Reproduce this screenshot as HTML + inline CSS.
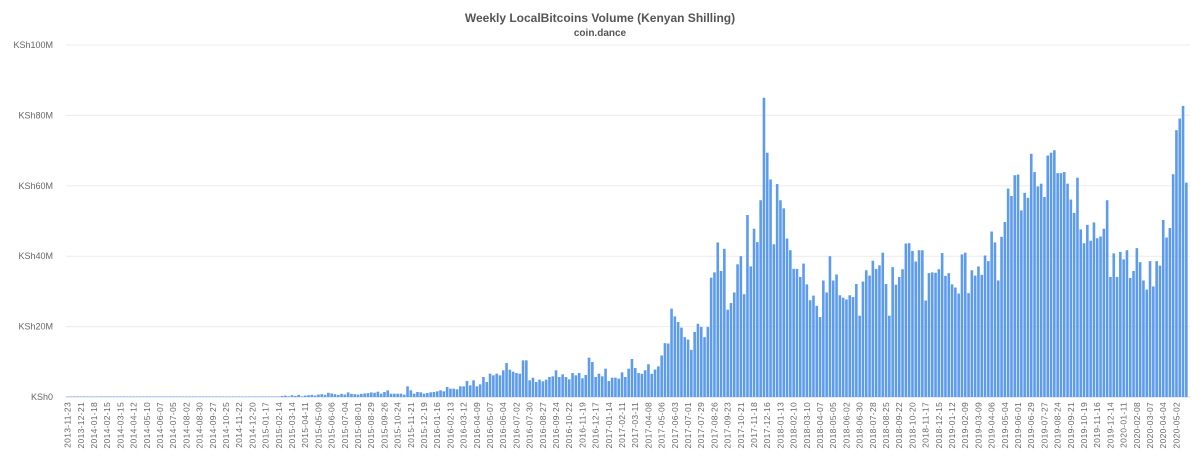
<!DOCTYPE html>
<html><head><meta charset="utf-8"><style>
html,body{margin:0;padding:0;background:#fff;width:1200px;height:464px;overflow:hidden}
svg{display:block;font-family:"Liberation Sans",sans-serif}
</style></head><body>
<svg id="c" width="1200" height="464" xmlns="http://www.w3.org/2000/svg">
<text x="600" y="22" text-anchor="middle" font-size="12" font-weight="bold" fill="#555">Weekly LocalBitcoins Volume (Kenyan Shilling)</text>
<text x="600" y="36" text-anchor="middle" font-size="10" font-weight="bold" fill="#555">coin.dance</text>
<g id="grid"></g><g id="bars"></g><g id="xl"></g>
</svg>
<script>
var NS="http://www.w3.org/2000/svg";
function el(t,a,txt){var e=document.createElementNS(NS,t);for(var k in a)e.setAttribute(k,a[k]);if(txt!=null)e.textContent=txt;return e;}
var x0=66,dw=3.3,y0=397,sc=3.52;
var g=document.getElementById('grid');
for(var i=0;i<=5;i++){var y=y0-i*20*sc;
g.appendChild(el('line',{x1:x0,x2:1190,y1:y,y2:y,stroke:i==0?'#ccd6eb':'#ececec','stroke-width':1}));
g.appendChild(el('text',{x:53,y:y+3,'text-anchor':'end','font-size':9,fill:'#666'},'KSh'+(i*20)+(i?'M':'')));}
var d=[];
for(var w=0;w<65;w++)d.push(w%7==3?0.15:0.05);
var e1=[0.3,0.4,0.2,0.5,0.3,0.6,0.2,0.4,0.5,0.6,0.4,0.7,0.8,0.6,1.2,1.0,0.8,0.6,0.9,0.7,1.3,0.9,0.8,0.7,0.9,1.0,1.1,1.3,1.2,1.5];
d=d.concat(e1);
var tops=[340,335,330,340,340,340,340,343,318,330,340,335,336,340,338,336,335,333,330,333,320,325,325,327,318,318,302,315,300,318,312,290,305,280,285,280,285,270,248,268,274,278,280,240,240,300,292,305,298,303,298,290,288,270,290,282,290,297,278,285,278,294,284,232,245,290,280,288,265,302,292,292,295,276,290,265,236,263,278];
while(d.length<95)d.push(1.2);
for(var i=0;i<tops.length;i++)d.push((350-tops[i])/10.56);
while(d.length<174)d.push(7);
d.length=174;
var rest=[6.6,7.6,9.3,6.6,7.8,8.7,11.8,15.3,15.2,25.1,22.9,21.3,19.7,17,16.3,13.4,18.5,20.8,19.9,17,19.9,33.9,35.4,43.9,35.8,42.1,24.8,26.7,29.7,37.7,40,29.2,51.7,37.1,47.8,44,55.9,85,69.4,61.8,43.4,60.5,55.9,53.6,45,41.7,36.4,36.4,34.1,37.9,32,27.5,28.8,25.9,22.7,33.1,29.7,40,33.1,34.8,28.9,28.2,27.7,28.9,28.4,32.1,23.1,32.8,36,34.5,38.7,36.4,37.4,41,32.1,23.1,36.9,31.9,34.1,36.3,43.6,43.7,41.5,38.5,41.7,41.7,27.4,35.2,35.4,35.3,36.3,40.9,34.4,35.2,32,31.1,29.4,40.5,41,29.5,36,34.5,37.1,34.7,40.2,38.6,47,43.9,33.1,45.5,49.7,59.2,57.1,63,63.2,53,58,56.6,69.1,63.9,59.8,60.6,56.8,68.6,69.4,70.1,63.6,63.6,63.9,60.6,56.1,52.3,62.3,47.6,43.7,48.9,44.4,49.6,45.1,45.6,47.8,55.9,34.1,40.8,34.1,41.2,39.1,41.7,33.8,35.8,42.3,38.3,33.1,30.5,38.6,31.4,38.6,37.3,50.3,45.3,48,63.3,75.8,79.1,82.7,60.9];
d=d.concat(rest);
var b=document.getElementById('bars'),s='';
for(var i=0;i<d.length;i++){var h=d[i]*sc;if(h<0.5)h=0.5;
b.appendChild(el('rect',{x:(x0+i*dw+0.35).toFixed(2),y:(y0-h).toFixed(2),width:2.6,height:h.toFixed(2),fill:'#5d9cec'}));}
var xl=document.getElementById('xl');
var t=new Date(Date.UTC(2013,10,23));
for(var k=0;k<=84;k++){var dt=new Date(t.getTime()+k*28*864e5);
var lab=dt.toISOString().slice(0,10);var x=x0+k*4*dw+1.6;
xl.appendChild(el('text',{transform:'translate('+(x+3)+',402) rotate(-90)','text-anchor':'end','font-size':8.5,fill:'#666','letter-spacing':'0.3'},lab));}
</script>
</body></html>
